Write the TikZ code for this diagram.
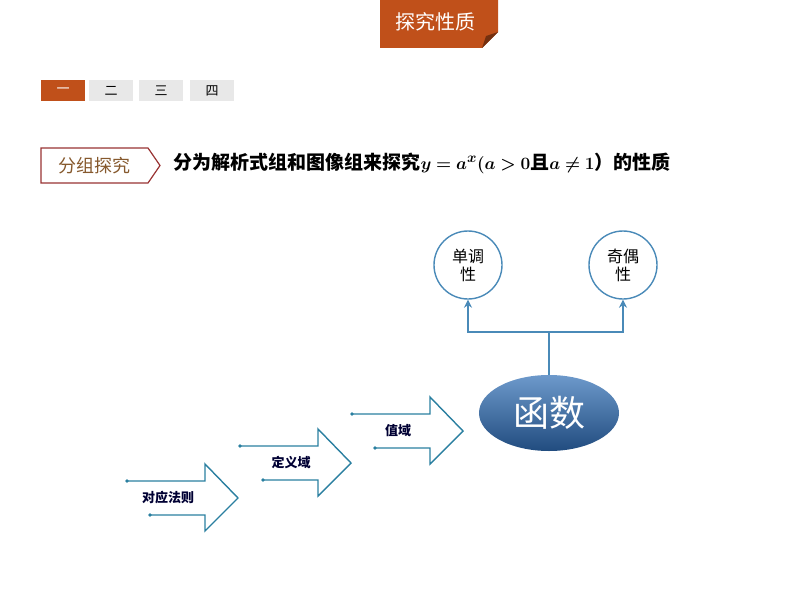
\documentclass[tikz,border=0pt]{standalone}
\usepackage{amsmath,bm}
\usepackage{fontspec}
\newfontfamily\cjk{Noto Sans CJK SC}
\usetikzlibrary{shapes.geometric,arrows.meta}
\definecolor{org}{HTML}{C0501A}
\definecolor{arw}{HTML}{2A7FA0}
\definecolor{blu}{HTML}{2F6DB5}
\definecolor{con}{HTML}{4A8AB8}
\tikzset{
 tab/.style={minimum width=44pt,minimum height=21pt,inner sep=0pt,font=\cjk\fontsize{13}{13}\selectfont},
 arrowbox/.style={draw=arw,line width=1.4pt,line join=miter},
 dotend/.style={fill=arw,circle,inner sep=1.3pt},
 lbl/.style={font=\cjk\bfseries\fontsize{13}{13}\selectfont,text=black!80!blue},
 circ/.style={circle,draw=con,line width=1.4pt,minimum size=68pt,inner sep=0pt,align=center,font=\cjk\fontsize{16}{18}\selectfont},
 conn/.style={draw=con,line width=2pt}
}
\begin{document}
\begin{tikzpicture}[x=1pt,y=-1pt]
\useasboundingbox (0,0) rectangle (794,596);
% header
\fill[org] (380,0) -- (498,0) -- (498,32) -- (482,48) -- (380,48) -- cycle;
\fill[org!60!black] (498,32) -- (482,48) -- (486,36) -- cycle;
\node[text=white,font=\cjk\fontsize{20}{20}\selectfont] (hdr) at (435,22) {探究性质};
% tabs
\node[tab,fill=org,text=white] (t1) at (63,90.5) {一};
\node[tab,fill=black!9] (t2) at (111,90.5) {二};
\node[tab,fill=black!9] (t3) at (161,90.5) {三};
\node[tab,fill=black!9] (t4) at (212,90.5) {四};
% group box
\draw[draw=red!50!black!80,line width=1.2pt,fill=white] (41,148) -- (148,148) -- (160,165.5) -- (148,183) -- (41,183) -- cycle;
\node[text=brown!70!black,font=\cjk\fontsize{18}{18}\selectfont] (grp) at (94,166) {分组探究};
\node[anchor=west,font=\cjk\bfseries\fontsize{19}{19}\selectfont] (ttl) at (170,163)
 {分为解析式组和图像组来探究$\bm{y=a^x(a>0}$且$\bm{a\neq1}$）的性质};
% arrows
\foreach \x/\y/\n in {127/481/a,240/446/b,352/414/c}{
 \draw[arrowbox] (\x,\y) -- (\x+78,\y) -- (\x+78,\y-17) -- (\x+111,\y+17) -- (\x+78,\y+50) -- (\x+78,\y+34) -- (\x+23,\y+34);
 \node[dotend] (\n1) at (\x,\y) {};
 \node[dotend] (\n2) at (\x+23,\y+34) {};
}
\node[lbl] (l1) at (168,498) {对应法则};
\node[lbl] (l2) at (291,463) {定义域};
\node[lbl] (l3) at (398,431) {值域};
% function ellipse
\node[ellipse,minimum width=140pt,minimum height=76pt,inner sep=0pt,
 top color=blu!70!white,bottom color=blu!70!black,
 text=white,font=\cjk\fontsize{36}{36}\selectfont] (fn) at (549,413) {函数};
\node[circ] (c1) at (468,265) {单调\\性};
\node[circ] (c2) at (623,265) {奇偶\\性};
\coordinate (j) at (fn.north |- 0,332);
\draw[conn] (fn.north) -- (j);
\draw[conn,-{Stealth[length=8pt,width=8pt]}] (j) -| (c1.south);
\draw[conn,-{Stealth[length=8pt,width=8pt]}] (j) -| (c2.south);
\end{tikzpicture}
\end{document}
